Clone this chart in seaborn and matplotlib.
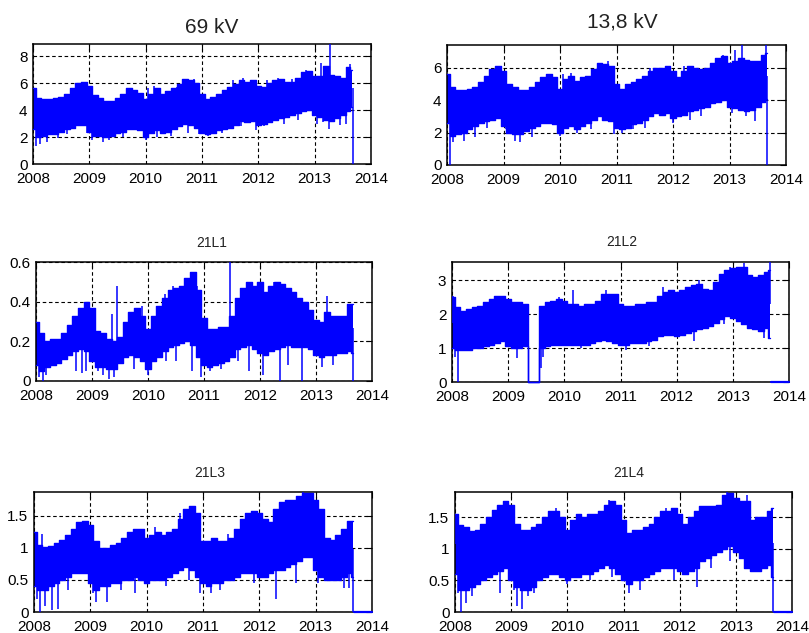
import numpy as np
import pandas as pd
import seaborn as sns
import matplotlib.pyplot as plt

# ---------------------------------------------------------------------------
# Load envelopes sampled every 0.1 year (2008.0 ... 2013.6) plus the last
# sample before the recording stops (2013.66).
# ---------------------------------------------------------------------------
sample_years = list(np.round(np.arange(2008.0, 2013.65, 0.1), 2)) + [2013.66]

kv69_upper = [5.6, 4.9, 4.8, 4.8, 4.9, 5.0, 5.2, 5.6, 6.0, 6.1,
              5.8, 5.1, 4.9, 4.7, 4.7, 4.9, 5.2, 5.6, 5.5, 5.3,
              4.8, 5.2, 5.6, 5.2, 5.4, 5.6, 5.9, 6.3, 6.2, 6.0,
              5.2, 4.8, 5.0, 5.2, 5.5, 5.7, 5.9, 6.2, 6.1, 6.2,
              5.8, 5.7, 6.0, 6.2, 6.3, 6.1, 6.1, 6.4, 6.8, 6.9,
              6.5, 6.5, 7.3, 6.6, 6.5, 6.4, 7.2, 7.0]
kv69_lower = [2.6, 2.0, 2.1, 2.2, 2.2, 2.4, 2.6, 2.7, 2.9, 2.9,
              2.4, 2.1, 2.1, 2.0, 2.1, 2.3, 2.4, 2.6, 2.6, 2.5,
              2.0, 2.3, 2.5, 2.3, 2.4, 2.6, 2.8, 3.0, 2.9, 2.7,
              2.3, 2.2, 2.3, 2.5, 2.6, 2.7, 2.9, 3.2, 3.1, 3.2,
              2.9, 3.0, 3.1, 3.3, 3.4, 3.5, 3.6, 3.8, 3.9, 4.0,
              3.6, 3.5, 3.3, 3.2, 3.4, 3.6, 3.9, 4.2]
kv69_spike_t = [2008.05, 2008.12, 2008.25, 2008.45, 2009.05, 2009.25, 2009.35,
                2010.0, 2010.2, 2010.95, 2011.1, 2011.7, 2012.1, 2012.45,
                2013.05, 2013.25, 2013.45, 2010.15, 2010.55, 2011.72, 2012.35,
                2012.85, 2013.12, 2013.27, 2013.62, 2013.68,
                2010.05, 2010.85, 2011.55, 2012.15, 2012.6,
                2008.6, 2008.95, 2009.6, 2010.45, 2010.75, 2011.35, 2011.95,
                2012.7, 2013.15, 2013.55]
kv69_spike_v = [1.3, 1.5, 1.6, 1.9, 1.8, 1.6, 1.8,
                1.8, 2.0, 2.2, 2.1, 2.8, 2.8, 3.0,
                3.0, 2.6, 2.9, 5.8, 5.7, 6.35, 6.4,
                7.0, 7.5, 8.9, 7.4, 0.0,
                5.6, 6.3, 6.2, 6.2, 6.3,
                2.2, 2.3, 2.0, 2.1, 2.3, 2.3, 2.5,
                3.3, 3.1, 3.0]

kv13_upper = [5.6, 4.8, 4.6, 4.6, 4.7, 4.8, 5.1, 5.5, 5.9, 6.1,
              5.8, 5.0, 4.8, 4.6, 4.6, 4.8, 5.1, 5.4, 5.6, 5.4,
              4.7, 5.3, 5.5, 5.2, 5.4, 5.5, 5.9, 6.3, 6.2, 6.1,
              5.0, 4.7, 5.0, 5.1, 5.3, 5.5, 5.8, 6.0, 6.0, 6.1,
              5.8, 5.4, 5.8, 6.1, 6.0, 5.9, 6.0, 6.3, 6.6, 6.7,
              6.3, 6.4, 6.6, 6.5, 6.4, 6.4, 6.8, 6.9]
kv13_lower = [2.6, 1.8, 1.9, 2.0, 2.2, 2.4, 2.6, 2.7, 2.8, 2.9,
              2.4, 2.0, 1.9, 1.9, 2.1, 2.3, 2.4, 2.6, 2.6, 2.5,
              2.0, 2.3, 2.4, 2.2, 2.4, 2.6, 2.8, 3.0, 2.8, 2.7,
              2.3, 2.2, 2.3, 2.5, 2.6, 2.8, 3.0, 3.2, 3.1, 3.2,
              2.9, 3.0, 3.1, 3.3, 3.4, 3.5, 3.6, 3.8, 3.9, 4.0,
              3.6, 3.5, 3.4, 3.3, 3.4, 3.6, 3.9, 4.1]
kv13_spike_t = [2008.06, 2008.1, 2008.3, 2008.5, 2009.2, 2009.3, 2009.5,
                2010.0, 2010.3, 2010.95, 2011.1, 2011.5, 2012.0, 2012.5,
                2013.3, 2013.45, 2010.2, 2012.88, 2013.1, 2013.22, 2013.65,
                2013.67,
                2010.05, 2010.85, 2011.6, 2012.2,
                2008.7, 2009.05, 2010.55, 2011.3, 2012.3, 2013.05]
kv13_spike_v = [0.0, 1.4, 1.5, 1.7, 1.5, 1.4, 1.7,
                1.8, 2.0, 1.9, 2.0, 2.3, 2.6, 3.0,
                3.0, 2.7, 5.7, 6.8, 7.1, 7.4, 7.4,
                0.0,
                5.6, 6.4, 6.0, 6.1,
                2.3, 2.2, 2.2, 2.2, 2.8, 3.2]

l1_upper = [0.30, 0.24, 0.20, 0.21, 0.21, 0.24, 0.28, 0.33, 0.37, 0.40,
            0.37, 0.25, 0.24, 0.21, 0.20, 0.22, 0.30, 0.35, 0.37, 0.33,
            0.26, 0.33, 0.38, 0.42, 0.46, 0.47, 0.48, 0.52, 0.55, 0.46,
            0.32, 0.26, 0.26, 0.27, 0.27, 0.33, 0.42, 0.47, 0.50, 0.48,
            0.50, 0.45, 0.48, 0.50, 0.49, 0.47, 0.45, 0.42, 0.40, 0.36,
            0.31, 0.30, 0.35, 0.33, 0.33, 0.33, 0.39, 0.39]
l1_lower = [0.08, 0.05, 0.07, 0.08, 0.09, 0.11, 0.13, 0.15, 0.16, 0.15,
            0.10, 0.07, 0.07, 0.06, 0.06, 0.09, 0.12, 0.13, 0.12, 0.10,
            0.06, 0.10, 0.12, 0.15, 0.17, 0.18, 0.19, 0.20, 0.18, 0.12,
            0.08, 0.07, 0.08, 0.09, 0.10, 0.12, 0.16, 0.17, 0.18, 0.16,
            0.14, 0.13, 0.15, 0.16, 0.17, 0.18, 0.17, 0.17, 0.17, 0.16,
            0.13, 0.12, 0.13, 0.13, 0.14, 0.14, 0.15, 0.14]
l1_spike_t = [2008.05, 2008.12, 2008.18, 2008.72, 2008.82, 2008.9, 2009.1,
              2009.2, 2009.3, 2009.4, 2009.75, 2010.0, 2010.5, 2010.78,
              2010.95, 2011.1, 2011.3, 2011.8, 2012.05, 2012.35, 2012.75,
              2013.1, 2013.3, 2009.35, 2009.45, 2010.45, 2010.88, 2011.46,
              2012.25, 2013.2, 2013.66,
              2009.9, 2010.3, 2010.32, 2011.6, 2012.5]
l1_spike_v = [0.02, 0.0, 0.03, 0.05, 0.04, 0.05, 0.05,
              0.03, 0.01, 0.02, 0.06, 0.03, 0.10, 0.05,
              0.02, 0.05, 0.06, 0.05, 0.03, 0.0, 0.0,
              0.07, 0.08, 0.34, 0.48, 0.48, 0.48, 0.60,
              0.50, 0.43, 0.0,
              0.38, 0.44, 0.10, 0.10, 0.08]

l2_upper = [2.50, 2.20, 2.10, 2.15, 2.20, 2.25, 2.35, 2.45, 2.55, 2.55,
            2.45, 2.35, 2.35, 2.30, 0.00, 0.00, 2.25, 2.35, 2.40, 2.45,
            2.40, 2.30, 2.30, 2.25, 2.30, 2.30, 2.40, 2.60, 2.60, 2.60,
            2.30, 2.25, 2.25, 2.30, 2.30, 2.35, 2.35, 2.55, 2.65, 2.70,
            2.65, 2.70, 2.80, 2.85, 2.90, 2.75, 2.70, 2.95, 3.20, 3.30,
            3.35, 3.40, 3.40, 3.15, 3.10, 3.15, 3.25, 3.30]
l2_lower = [1.00, 0.95, 0.95, 0.95, 1.00, 1.00, 1.05, 1.10, 1.15, 1.20,
            1.05, 1.00, 1.00, 1.05, 0.00, 0.00, 1.00, 1.05, 1.10, 1.10,
            1.10, 1.10, 1.10, 1.10, 1.10, 1.15, 1.20, 1.25, 1.20, 1.15,
            1.10, 1.10, 1.15, 1.15, 1.15, 1.20, 1.25, 1.35, 1.40, 1.40,
            1.35, 1.40, 1.45, 1.50, 1.55, 1.60, 1.65, 1.75, 1.85, 1.95,
            1.90, 1.80, 1.70, 1.60, 1.55, 1.50, 1.60, 1.30]
l2_spike_t = [2008.05, 2008.1, 2009.15, 2009.58, 2009.62, 2011.1, 2012.3,
              2013.55, 2008.02, 2010.15, 2011.75, 2012.95, 2013.2, 2013.66,
              2009.9, 2010.75, 2012.4, 2010.3, 2011.5, 2012.85]
l2_spike_v = [0.75, 0.0, 0.7, 0.4, 0.75, 0.95, 1.2,
              1.3, 2.55, 2.7, 2.8, 3.4, 3.5, 3.54,
              2.5, 2.7, 3.0, 1.0, 1.05, 1.7]

l3_upper = [1.25, 1.05, 1.02, 1.03, 1.08, 1.12, 1.20, 1.30, 1.40, 1.42,
            1.35, 1.10, 1.00, 1.00, 1.05, 1.08, 1.15, 1.25, 1.30, 1.30,
            1.15, 1.20, 1.25, 1.20, 1.25, 1.30, 1.45, 1.60, 1.65, 1.55,
            1.10, 1.10, 1.15, 1.10, 1.10, 1.15, 1.30, 1.45, 1.55, 1.58,
            1.55, 1.45, 1.40, 1.60, 1.72, 1.75, 1.75, 1.80, 1.85, 1.85,
            1.75, 1.60, 1.15, 1.12, 1.20, 1.30, 1.42, 1.42]
l3_lower = [0.40, 0.35, 0.35, 0.40, 0.45, 0.50, 0.55, 0.60, 0.60, 0.60,
            0.45, 0.35, 0.40, 0.40, 0.45, 0.45, 0.50, 0.50, 0.55, 0.50,
            0.45, 0.50, 0.50, 0.50, 0.55, 0.60, 0.65, 0.70, 0.65, 0.55,
            0.45, 0.40, 0.45, 0.45, 0.50, 0.50, 0.55, 0.60, 0.60, 0.60,
            0.55, 0.55, 0.60, 0.65, 0.65, 0.70, 0.75, 0.80, 0.85, 0.85,
            0.65, 0.55, 0.50, 0.50, 0.50, 0.55, 0.60, 0.55]
l3_spike_t = [2008.05, 2008.1, 2008.2, 2008.32, 2008.42, 2008.6, 2009.05,
              2009.1, 2009.3, 2009.8, 2010.35, 2010.95, 2011.15, 2011.3,
              2012.3, 2012.65, 2013.5, 2013.6, 2008.15, 2008.7, 2010.15,
              2010.6, 2011.45, 2012.78, 2012.95, 2013.66,
              2009.55, 2010.75, 2011.9, 2013.05]
l3_spike_v = [0.2, 0.0, 0.1, 0.03, 0.05, 0.35, 0.3,
              0.15, 0.15, 0.3, 0.4, 0.3, 0.3, 0.35,
              0.2, 0.45, 0.38, 0.38, 1.22, 1.3, 1.32,
              1.55, 1.22, 1.87, 1.85, 0.0,
              0.35, 0.5, 0.45, 0.45]

l4_upper = [1.55, 1.38, 1.35, 1.28, 1.30, 1.40, 1.50, 1.62, 1.70, 1.75,
            1.70, 1.40, 1.30, 1.30, 1.35, 1.40, 1.50, 1.60, 1.60, 1.50,
            1.30, 1.45, 1.55, 1.50, 1.55, 1.55, 1.60, 1.70, 1.75, 1.70,
            1.45, 1.25, 1.30, 1.30, 1.35, 1.40, 1.50, 1.60, 1.60, 1.65,
            1.55, 1.40, 1.50, 1.60, 1.68, 1.68, 1.68, 1.70, 1.85, 1.88,
            1.80, 1.75, 1.75, 1.45, 1.50, 1.50, 1.60, 1.65]
l4_lower = [0.60, 0.35, 0.35, 0.40, 0.45, 0.50, 0.55, 0.60, 0.65, 0.70,
            0.50, 0.40, 0.35, 0.35, 0.40, 0.50, 0.55, 0.60, 0.60, 0.55,
            0.50, 0.55, 0.55, 0.60, 0.60, 0.65, 0.70, 0.75, 0.70, 0.60,
            0.50, 0.45, 0.50, 0.50, 0.55, 0.60, 0.65, 0.70, 0.70, 0.70,
            0.65, 0.60, 0.65, 0.70, 0.80, 0.85, 0.90, 0.95, 1.00, 1.05,
            0.95, 0.85, 0.70, 0.65, 0.65, 0.70, 0.75, 0.55]
l4_spike_t = [2008.05, 2008.1, 2008.2, 2008.3, 2008.8, 2009.05, 2009.1,
              2009.2, 2009.3, 2009.4, 2010.0, 2010.8, 2011.1, 2011.3,
              2012.3, 2012.55, 2008.02, 2010.75, 2012.85, 2013.2, 2013.66,
              2009.8, 2011.75, 2010.4, 2011.9, 2012.9]
l4_spike_v = [0.3, 0.0, 0.15, 0.25, 0.3, 0.35, 0.1,
              0.05, 0.25, 0.3, 0.45, 0.55, 0.3, 0.35,
              0.4, 0.7, 1.55, 1.78, 1.9, 1.85, 0.0,
              1.65, 1.65, 0.5, 0.5, 0.8]

# Zero readings recorded after the measurement stopped
zero_tail_t = [2013.68, 2014.0]
zero_tail_v = [0.0, 0.0]

year_ticks = [2008, 2009, 2010, 2011, 2012, 2013, 2014]

panels = [
    dict(title="69 kV", upper=kv69_upper, lower=kv69_lower,
         st=kv69_spike_t, sv=kv69_spike_v, tail=False,
         ylim=8.9, yticks=[0, 2, 4, 6, 8],
         rect=[33, 44, 371, 164], title_xy=(212, 33), title_size=15),
    dict(title="13,8 kV", upper=kv13_upper, lower=kv13_lower,
         st=kv13_spike_t, sv=kv13_spike_v, tail=False,
         ylim=7.4, yticks=[0, 2, 4, 6],
         rect=[447, 45, 786, 165], title_xy=(622, 27), title_size=15),
    dict(title="21L1", upper=l1_upper, lower=l1_lower,
         st=l1_spike_t, sv=l1_spike_v, tail=False,
         ylim=0.6, yticks=[0, 0.2, 0.4, 0.6],
         rect=[36, 262, 372, 381], title_xy=(212, 247), title_size=10),
    dict(title="21L2", upper=l2_upper, lower=l2_lower,
         st=l2_spike_t, sv=l2_spike_v, tail=True,
         ylim=3.54, yticks=[0, 1, 2, 3],
         rect=[452, 262, 789, 382], title_xy=(622, 246), title_size=10),
    dict(title="21L3", upper=l3_upper, lower=l3_lower,
         st=l3_spike_t, sv=l3_spike_v, tail=True,
         ylim=1.87, yticks=[0, 0.5, 1, 1.5],
         rect=[34, 492, 372, 612], title_xy=(210, 477), title_size=10),
    dict(title="21L4", upper=l4_upper, lower=l4_lower,
         st=l4_spike_t, sv=l4_spike_v, tail=True,
         ylim=1.9, yticks=[0, 0.5, 1, 1.5],
         rect=[455, 492, 792, 612], title_xy=(629, 477), title_size=10),
]

BLUE = (0.0, 0.0, 1.0)
W, H = 809, 633

sns.set_style("white")
plt.rcParams["font.family"] = ["Liberation Sans", "DejaVu Sans"]

fig = plt.figure(figsize=(W / 100, H / 100), dpi=100)
fig.patch.set_facecolor("white")


def fmt(v):
    return f"{v:g}"


for p in panels:
    l, t, r, b = p["rect"]
    ax = fig.add_axes([l / W, (H - b) / H, (r - l) / W, (b - t) / H])
    df = pd.DataFrame({"year": sample_years, "upper": p["upper"],
                       "lower": p["lower"]})

    # band between daily minima and maxima
    ax.fill_between(df["year"], df["lower"], df["upper"], step="mid",
                    color=BLUE, lw=0, zorder=2)
    for col in ("upper", "lower"):
        sns.lineplot(data=df, x="year", y=col, ax=ax, color=BLUE, lw=1.0,
                     drawstyle="steps-mid", estimator=None, sort=False,
                     zorder=3, clip_on=False)

    # isolated spikes and dips, rooted inside the band
    yrs = np.array(sample_years)
    idx = [int(np.abs(yrs - s).argmin()) for s in p["st"]]
    base = [(p["upper"][i] + p["lower"][i]) / 2 for i in idx]
    ax.vlines(p["st"], base, p["sv"], color=BLUE, lw=1.1, zorder=3)

    if p["tail"]:
        tail = pd.DataFrame({"year": zero_tail_t, "value": zero_tail_v})
        sns.lineplot(data=tail, x="year", y="value", ax=ax, color=BLUE,
                     lw=1.6, estimator=None, zorder=4, clip_on=False)

    ax.set_xlim(2008, 2014)
    ax.set_ylim(0, p["ylim"])
    ax.set_xticks(year_ticks)
    ax.set_xticklabels([str(y) for y in year_ticks])
    ax.set_yticks(p["yticks"])
    ax.set_yticklabels([fmt(v) for v in p["yticks"]])
    ax.set_xlabel("")
    ax.set_ylabel("")

    ax.set_axisbelow(True)
    ax.grid(True, color="black", linestyle=(0, (3.2, 2.4)), lw=0.8)
    for s in ax.spines.values():
        s.set_color("black")
        s.set_linewidth(1.1)
        s.set_visible(True)
    ax.tick_params(direction="in", length=4, width=0.8, top=True,
                   right=True, labelsize=11, pad=6, colors="black")
    ax.tick_params(axis="y", pad=4)

    fig.text(p["title_xy"][0] / W, 1 - p["title_xy"][1] / H, p["title"],
             ha="center", va="baseline", fontsize=p["title_size"],
             color="#222222")

fig.savefig("out.png", dpi=100, facecolor="white")
